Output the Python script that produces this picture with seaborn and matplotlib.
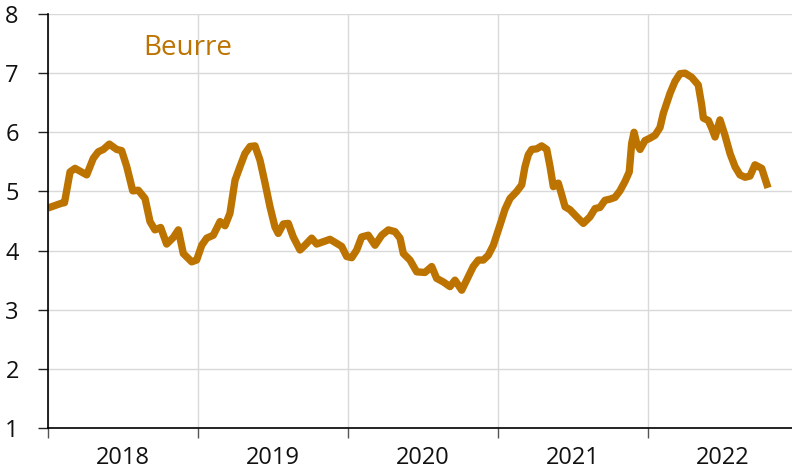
import numpy as np
import pandas as pd
import matplotlib
matplotlib.use("Agg")
import matplotlib.pyplot as plt
import seaborn as sns

# Butter price series, time expressed as decimal year
years = [2018, 2019, 2020, 2021, 2022]

t = [
    2018.000, 2018.090, 2018.110, 2018.147, 2018.180, 2018.258, 2018.302, 2018.335,
    2018.369, 2018.409, 2018.458, 2018.491, 2018.525, 2018.565, 2018.602, 2018.647,
    2018.680, 2018.713, 2018.751, 2018.791, 2018.835, 2018.869, 2018.902, 2018.958,
    2018.991, 2019.025, 2019.058, 2019.102, 2019.147, 2019.180, 2019.213, 2019.247,
    2019.280, 2019.313, 2019.347, 2019.380, 2019.413, 2019.447, 2019.480, 2019.513,
    2019.535, 2019.569, 2019.602, 2019.635, 2019.680, 2019.713, 2019.758, 2019.791,
    2019.835, 2019.880, 2019.925, 2019.958, 2019.991, 2020.025, 2020.058, 2020.091,
    2020.135, 2020.180, 2020.225, 2020.269, 2020.313, 2020.347, 2020.369, 2020.413,
    2020.458, 2020.513, 2020.558, 2020.591, 2020.635, 2020.680, 2020.713, 2020.758,
    2020.802, 2020.835, 2020.869, 2020.902, 2020.935, 2020.969, 2021.013, 2021.047,
    2021.080, 2021.125, 2021.158, 2021.180, 2021.202, 2021.225, 2021.258, 2021.291,
    2021.325, 2021.347, 2021.369, 2021.402, 2021.425, 2021.447, 2021.480, 2021.525,
    2021.569, 2021.613, 2021.647, 2021.680, 2021.713, 2021.747, 2021.780, 2021.813,
    2021.847, 2021.875, 2021.891, 2021.907, 2021.925, 2021.947, 2021.980, 2022.013,
    2022.047, 2022.080, 2022.102, 2022.147, 2022.180, 2022.213, 2022.247, 2022.291,
    2022.335, 2022.358, 2022.369, 2022.402, 2022.425, 2022.447, 2022.480, 2022.513,
    2022.547, 2022.580, 2022.613, 2022.647, 2022.680, 2022.713, 2022.758, 2022.800,
]

beurre = [
    4.72, 4.80, 4.81, 5.33, 5.39, 5.28, 5.56, 5.67,
    5.71, 5.80, 5.71, 5.69, 5.42, 5.01, 5.02, 4.88,
    4.49, 4.35, 4.39, 4.11, 4.22, 4.35, 3.95, 3.81,
    3.84, 4.09, 4.21, 4.26, 4.49, 4.42, 4.63, 5.19,
    5.42, 5.64, 5.76, 5.77, 5.53, 5.14, 4.74, 4.40,
    4.29, 4.45, 4.46, 4.23, 4.01, 4.09, 4.21, 4.11,
    4.15, 4.19, 4.12, 4.07, 3.90, 3.88, 4.01, 4.23,
    4.26, 4.09, 4.26, 4.35, 4.32, 4.21, 3.95, 3.84,
    3.64, 3.63, 3.73, 3.53, 3.47, 3.39, 3.50, 3.33,
    3.56, 3.73, 3.84, 3.84, 3.92, 4.09, 4.43, 4.70,
    4.88, 5.00, 5.11, 5.42, 5.62, 5.71, 5.72, 5.77,
    5.71, 5.42, 5.08, 5.14, 4.94, 4.74, 4.69, 4.57,
    4.46, 4.57, 4.71, 4.73, 4.85, 4.87, 4.90, 5.01,
    5.17, 5.33, 5.81, 6.00, 5.81, 5.71, 5.86, 5.90,
    5.95, 6.08, 6.32, 6.66, 6.86, 6.99, 7.00, 6.93,
    6.80, 6.46, 6.24, 6.20, 6.07, 5.92, 6.21, 5.95,
    5.64, 5.42, 5.28, 5.24, 5.26, 5.45, 5.39, 5.06,
]

COLOR = "#BD7300"

sns.set_theme(style="white")
plt.rcParams["font.family"] = ["Open Sans", "DejaVu Sans"]

df = pd.DataFrame({"t": t, "Beurre": beurre})

fig = plt.figure(figsize=(7.92, 4.72), dpi=100)
# plot area runs slightly past the right edge of the image, as in the original
ax = fig.add_axes([48 / 792, 1 - 428 / 472, (798 - 48) / 792, (428 - 14) / 472])

sns.lineplot(data=df, x="t", y="Beurre", ax=ax, color=COLOR, linewidth=5.3,
             solid_capstyle="butt", solid_joinstyle="round")

ax.set_xlim(years[0], years[-1] + 1)
ax.set_ylim(1, 8)
ax.set_yticks(range(1, 9))

# year boundaries as major ticks, labels centred on each year
ax.set_xticks(years + [years[-1] + 1])
ax.set_xticklabels([])
ax.set_xticks([y + 0.5 for y in years], minor=True)
ax.set_xticklabels([str(y) for y in years], minor=True)

ax.grid(True, which="major", color="#D9D9D9", linewidth=1)
ax.set_axisbelow(True)
ax.tick_params(axis="x", which="major", direction="out", length=7, width=1, color="#555555")
ax.tick_params(axis="x", which="minor", length=0, pad=13, labelsize=17, labelcolor="#111111")
ax.tick_params(axis="y", direction="out", length=7, width=1, color="#222222",
               pad=14, labelsize=17, labelcolor="#111111")
ax.tick_params(bottom=True, left=True)

for side in ["top", "right"]:
    ax.spines[side].set_visible(False)
for side in ["left", "bottom"]:
    ax.spines[side].set_color("black")
    ax.spines[side].set_linewidth(1.2)

ax.set_xlabel("")
ax.set_ylabel("")

ax.text(143 / 792, 1 - 55 / 472, "Beurre", transform=fig.transFigure,
        color=COLOR, fontsize=20, ha="left", va="baseline")

fig.savefig("out.png", dpi=100)
